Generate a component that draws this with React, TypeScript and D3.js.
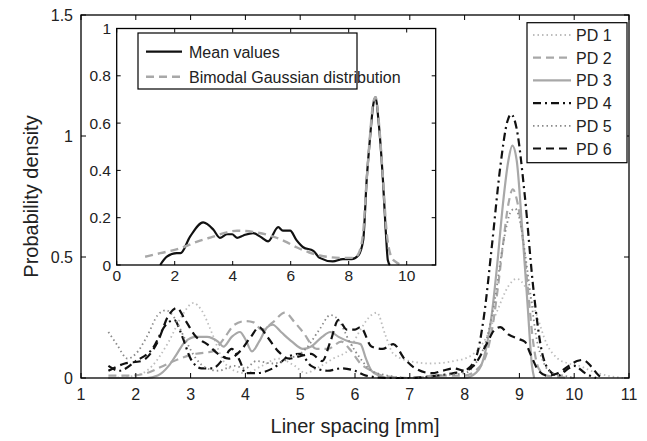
import React from 'react';
import * as d3 from 'd3';

// ---------- data ----------
const xTicksMain = [1, 2, 3, 4, 5, 6, 7, 8, 9, 10, 11];
const yTicksMain = [0, 0.5, 1, 1.5];
const yTickLabelsMain = ['0', '0.5', '1', '1.5'];
const xTicksInset = [0, 2, 4, 6, 8, 10];
const yTicksInset = [0, 0.2, 0.4, 0.6, 0.8, 1];
const yTickLabelsInset = ['0', '0.2', '0.4', '0.6', '0.8', '1'];

const seriesNames = ['PD 1', 'PD 2', 'PD 3', 'PD 4', 'PD 5', 'PD 6'];
const insetNames = ['Mean values', 'Bimodal Gaussian distribution'];

const pd1: [number, number][] = [
  [1.5, 0.0], [2.0, 0.01], [2.3, 0.05], [2.6, 0.15], [2.85, 0.26], [3.05, 0.31], [3.2, 0.28],
  [3.4, 0.18], [3.6, 0.07], [3.8, 0.03], [4.0, 0.02], [4.3, 0.05], [4.6, 0.08], [4.9, 0.05],
  [5.1, 0.02], [5.3, 0.04], [5.6, 0.08], [5.9, 0.12], [6.1, 0.2], [6.3, 0.26], [6.4, 0.27],
  [6.55, 0.18], [6.7, 0.1], [7.0, 0.07], [7.4, 0.06], [7.8, 0.07], [8.1, 0.09], [8.4, 0.17],
  [8.6, 0.28], [8.8, 0.38], [8.95, 0.41], [9.1, 0.38], [9.3, 0.27], [9.5, 0.14], [9.7, 0.08],
  [9.9, 0.06], [10.1, 0.05], [10.3, 0.03], [10.6, 0.01], [10.9, 0.0],
];
const pd2: [number, number][] = [
  [1.5, 0.01], [1.9, 0.01], [2.2, 0.02], [2.5, 0.05], [2.8, 0.08], [3.1, 0.1], [3.4, 0.11],
  [3.6, 0.16], [3.8, 0.22], [4.0, 0.235], [4.15, 0.23], [4.3, 0.2], [4.5, 0.23], [4.72, 0.27],
  [4.9, 0.23], [5.05, 0.19], [5.3, 0.12], [5.5, 0.12], [5.75, 0.15], [5.9, 0.12], [6.1, 0.06],
  [6.3, 0.03], [6.5, 0.01], [7.0, 0.0], [7.5, 0.01], [8.0, 0.01], [8.2, 0.03], [8.4, 0.1],
  [8.5, 0.2], [8.6, 0.36], [8.7, 0.55], [8.8, 0.72], [8.88, 0.78], [8.95, 0.74], [9.05, 0.6],
  [9.15, 0.38], [9.25, 0.15], [9.35, 0.04], [9.5, 0.01], [10.0, 0.0],
];
const pd3: [number, number][] = [
  [1.5, 0.0], [2.2, 0.0], [2.4, 0.01], [2.6, 0.05], [2.75, 0.1], [2.9, 0.15], [3.1, 0.17],
  [3.3, 0.17], [3.5, 0.15], [3.6, 0.13], [3.75, 0.17], [3.9, 0.19], [4.0, 0.16], [4.12, 0.11],
  [4.25, 0.15], [4.4, 0.21], [4.5, 0.22], [4.65, 0.19], [4.85, 0.15], [5.05, 0.12], [5.2, 0.13],
  [5.4, 0.17], [5.55, 0.19], [5.7, 0.17], [5.9, 0.15], [6.1, 0.14], [6.2, 0.08], [6.3, 0.03],
  [6.45, 0.01], [6.6, 0.0], [7.5, 0.0], [8.0, 0.0], [8.2, 0.02], [8.3, 0.05], [8.4, 0.13],
  [8.5, 0.27], [8.6, 0.48], [8.7, 0.72], [8.8, 0.9], [8.87, 0.96], [8.95, 0.9], [9.05, 0.62],
  [9.15, 0.3], [9.23, 0.05], [9.27, 0.0],
];
const pd4: [number, number][] = [
  [1.5, 0.05], [1.7, 0.03], [2.0, 0.07], [2.3, 0.12], [2.55, 0.22], [2.7, 0.24], [2.85, 0.17],
  [3.0, 0.08], [3.2, 0.04], [3.4, 0.04], [3.6, 0.08], [3.75, 0.12], [3.9, 0.07], [4.0, 0.02],
  [4.2, 0.02], [4.5, 0.04], [4.8, 0.09], [5.0, 0.1], [5.2, 0.05], [5.5, 0.03], [5.75, 0.04],
  [6.0, 0.03], [6.2, 0.01], [6.6, 0.0], [7.0, 0.0], [7.5, 0.01], [7.8, 0.02], [8.0, 0.03],
  [8.2, 0.08], [8.35, 0.25], [8.5, 0.55], [8.65, 0.87], [8.78, 1.06], [8.85, 1.09], [8.95, 1.03],
  [9.1, 0.75], [9.25, 0.38], [9.4, 0.12], [9.55, 0.03], [9.7, 0.01], [9.9, 0.04], [10.0, 0.05],
  [10.2, 0.02], [10.4, 0.0],
];
const pd5: [number, number][] = [
  [1.5, 0.19], [1.65, 0.14], [1.85, 0.08], [2.0, 0.1], [2.2, 0.17], [2.4, 0.26], [2.55, 0.28],
  [2.7, 0.25], [2.9, 0.16], [3.1, 0.08], [3.3, 0.04], [3.5, 0.03], [3.8, 0.05], [4.0, 0.04],
  [4.2, 0.07], [4.5, 0.06], [4.8, 0.08], [5.1, 0.12], [5.35, 0.2], [5.55, 0.26], [5.7, 0.24],
  [5.9, 0.15], [6.1, 0.08], [6.3, 0.03], [6.6, 0.01], [7.0, 0.0], [7.5, 0.01], [8.0, 0.02],
  [8.2, 0.06], [8.4, 0.16], [8.55, 0.32], [8.7, 0.55], [8.85, 0.69], [8.92, 0.7], [9.0, 0.66],
  [9.1, 0.52], [9.2, 0.35], [9.3, 0.18], [9.45, 0.06], [9.6, 0.02], [9.8, 0.01], [10.0, 0.0],
];
const pd6: [number, number][] = [
  [1.5, 0.03], [1.8, 0.06], [2.1, 0.07], [2.4, 0.15], [2.6, 0.26], [2.75, 0.29], [2.9, 0.24],
  [3.1, 0.17], [3.3, 0.14], [3.5, 0.1], [3.7, 0.08], [3.9, 0.11], [4.1, 0.17], [4.25, 0.21],
  [4.4, 0.17], [4.6, 0.11], [4.8, 0.08], [5.0, 0.09], [5.2, 0.1], [5.4, 0.07], [5.55, 0.15],
  [5.7, 0.24], [5.85, 0.2], [6.0, 0.2], [6.1, 0.21], [6.3, 0.13], [6.5, 0.12], [6.7, 0.14],
  [6.9, 0.08], [7.1, 0.04], [7.4, 0.02], [7.6, 0.03], [7.8, 0.04], [8.0, 0.03], [8.2, 0.06],
  [8.4, 0.14], [8.55, 0.2], [8.65, 0.21], [8.8, 0.18], [9.0, 0.16], [9.1, 0.15], [9.2, 0.1],
  [9.35, 0.03], [9.5, 0.01], [9.7, 0.02], [9.9, 0.05], [10.05, 0.07], [10.16, 0.075],
  [10.3, 0.05], [10.45, 0.01], [10.55, 0.0],
];

const meanValues: [number, number][] = [
  [1.5, 0.0], [1.73, 0.035], [2.07, 0.05], [2.2, 0.05], [2.53, 0.12], [2.98, 0.18], [3.33, 0.15],
  [3.56, 0.115], [3.8, 0.13], [3.98, 0.13], [4.15, 0.115], [4.37, 0.125], [4.7, 0.135],
  [4.95, 0.12], [5.22, 0.1], [5.57, 0.16], [5.73, 0.145], [5.98, 0.145], [6.2, 0.105],
  [6.43, 0.075], [6.78, 0.06], [7.0, 0.03], [7.45, 0.015], [7.8, 0.025], [8.1, 0.025],
  [8.33, 0.04], [8.5, 0.105], [8.62, 0.36], [8.73, 0.53], [8.85, 0.68], [8.93, 0.71],
  [9.02, 0.62], [9.18, 0.36], [9.28, 0.14], [9.35, 0.02], [9.42, 0.0],
];
const gaussianFit: [number, number][] = [
  [0.98, 0.035], [1.5, 0.05], [2.18, 0.07], [2.8, 0.1], [3.33, 0.12], [3.8, 0.138], [4.15, 0.145],
  [4.7, 0.14], [5.4, 0.12], [5.8, 0.1], [6.2, 0.075], [6.6, 0.055], [7.0, 0.04], [7.8, 0.03],
  [8.2, 0.03], [8.38, 0.06], [8.5, 0.14], [8.62, 0.36], [8.73, 0.54], [8.85, 0.69], [8.93, 0.71],
  [9.02, 0.63], [9.18, 0.37], [9.3, 0.15], [9.45, 0.04], [9.6, 0.015], [9.87, 0.0],
];

const mainSeries = [pd1, pd2, pd3, pd4, pd5, pd6];
const insetSeries = [meanValues, gaussianFit];

// ---------- styles ----------
const mainStyles = [
  { color: '#bdbdbd', dash: '1.5,3', width: 1.8 },
  { color: '#a8a8a8', dash: '8,5', width: 2.2 },
  { color: '#a8a8a8', dash: null, width: 2.2 },
  { color: '#111', dash: '8,4,2,4', width: 2.2 },
  { color: '#8a8a8a', dash: '1.5,3', width: 1.8 },
  { color: '#111', dash: '8,5', width: 2.2 },
];
const insetStyles = [
  { color: '#111', dash: null, width: 2.2 },
  { color: '#a8a8a8', dash: '8,5', width: 2.4 },
];

const FONT = '"Liberation Sans", Arial, Helvetica, sans-serif';

export default function App() {
  const W = 647;
  const H = 441;
  const m = { left: 81, right: 629, top: 15, bottom: 378 };
  const ins = { left: 116.7, right: 435.7, top: 28.5, bottom: 265 };

  const x = d3.scaleLinear().domain([1, 11]).range([m.left, m.right]);
  const y = d3.scaleLinear().domain([0, 1.5]).range([m.bottom, m.top]);
  const xi = d3.scaleLinear().domain([0, 11]).range([ins.left, ins.right]);
  const yi = d3.scaleLinear().domain([0, 1]).range([ins.bottom, ins.top]);

  const lineMain = d3
    .line<[number, number]>()
    .x((d) => x(d[0]))
    .y((d) => y(d[1]))
    .curve(d3.curveMonotoneX);
  const lineInset = d3
    .line<[number, number]>()
    .x((d) => xi(d[0]))
    .y((d) => yi(d[1]))
    .curve(d3.curveMonotoneX);

  const tk = 5;
  const tki = 4;

  const legX = 527;
  const legY = 22.7;
  const legW = 100;
  const legH = 140;
  const legRow0 = 35;
  const legStep = 22.7;

  const ilegX = 138;
  const ilegY = 33;
  const ilegW = 219;
  const ilegH = 56;

  return (
    <svg
      width={W}
      height={H}
      style={{ position: 'absolute', left: 0, top: 0, background: '#fff' }}
      fontFamily={FONT}
    >
      <rect x={0} y={0} width={W} height={H} fill="#fff" />
      {/* main curves */}
      {mainSeries.map((s, i) => (
        <path
          key={i}
          d={lineMain(s) || ''}
          fill="none"
          stroke={mainStyles[i].color}
          strokeWidth={mainStyles[i].width}
          strokeDasharray={mainStyles[i].dash || undefined}
          strokeLinecap="butt"
        />
      ))}
      {/* main axes box */}
      <rect
        x={m.left}
        y={m.top}
        width={m.right - m.left}
        height={m.bottom - m.top}
        fill="none"
        stroke="#000"
        strokeWidth={1.3}
      />
      {xTicksMain.map((t) => (
        <g key={'xt' + t}>
          <line x1={x(t)} x2={x(t)} y1={m.bottom} y2={m.bottom - tk} stroke="#000" strokeWidth={1} />
          <line x1={x(t)} x2={x(t)} y1={m.top} y2={m.top + tk} stroke="#000" strokeWidth={1} />
          <text x={x(t)} y={400} fontSize={16} textAnchor="middle" fill="#222">
            {t}
          </text>
        </g>
      ))}
      {yTicksMain.map((t, i) => (
        <g key={'yt' + t}>
          <line x1={m.left} x2={m.left + tk} y1={y(t)} y2={y(t)} stroke="#000" strokeWidth={1} />
          <line x1={m.right} x2={m.right - tk} y1={y(t)} y2={y(t)} stroke="#000" strokeWidth={1} />
          <text x={73} y={y(t) + 6} fontSize={16} textAnchor="end" fill="#222">
            {yTickLabelsMain[i]}
          </text>
        </g>
      ))}
      <text x={(m.left + m.right) / 2} y={433} fontSize={20} textAnchor="middle" fill="#222">
        Liner spacing [mm]
      </text>
      <text
        transform={`translate(38,${(m.top + m.bottom) / 2}) rotate(-90)`}
        fontSize={20}
        textAnchor="middle"
        fill="#222"
      >
        Probability density
      </text>

      {/* main legend */}
      <rect x={legX} y={legY} width={legW} height={legH} fill="#fff" stroke="#000" strokeWidth={1.2} />
      {seriesNames.map((n, i) => {
        const cy = legRow0 + i * legStep;
        const st = mainStyles[i];
        return (
          <g key={n}>
            <line
              x1={533}
              x2={571}
              y1={cy}
              y2={cy}
              stroke={st.color}
              strokeWidth={st.width}
              strokeDasharray={st.dash || undefined}
            />
            <text x={576} y={cy + 6} fontSize={16} fill="#222">
              {n}
            </text>
          </g>
        );
      })}

      {/* inset */}
      <rect
        x={ins.left}
        y={ins.top}
        width={ins.right - ins.left}
        height={ins.bottom - ins.top}
        fill="#fff"
        stroke="none"
      />
      {insetSeries.map((s, i) => (
        <path
          key={'is' + i}
          d={lineInset(s) || ''}
          fill="none"
          stroke={insetStyles[i].color}
          strokeWidth={insetStyles[i].width}
          strokeDasharray={insetStyles[i].dash || undefined}
        />
      ))}
      <rect
        x={ins.left}
        y={ins.top}
        width={ins.right - ins.left}
        height={ins.bottom - ins.top}
        fill="none"
        stroke="#000"
        strokeWidth={1.3}
      />
      {xTicksInset.map((t) => (
        <g key={'ixt' + t}>
          <line x1={xi(t)} x2={xi(t)} y1={ins.bottom} y2={ins.bottom - tki} stroke="#000" strokeWidth={1} />
          <line x1={xi(t)} x2={xi(t)} y1={ins.top} y2={ins.top + tki} stroke="#000" strokeWidth={1} />
          <text x={xi(t)} y={281} fontSize={15.5} textAnchor="middle" fill="#222">
            {t}
          </text>
        </g>
      ))}
      {yTicksInset.map((t, i) => (
        <g key={'iyt' + t}>
          <line x1={ins.left} x2={ins.left + tki} y1={yi(t)} y2={yi(t)} stroke="#000" strokeWidth={1} />
          <line x1={ins.right} x2={ins.right - tki} y1={yi(t)} y2={yi(t)} stroke="#000" strokeWidth={1} />
          <text x={111} y={yi(t) + 5.5} fontSize={15.5} textAnchor="end" fill="#222">
            {yTickLabelsInset[i]}
          </text>
        </g>
      ))}
      {/* inset legend */}
      <rect x={ilegX} y={ilegY} width={ilegW} height={ilegH} fill="#fff" stroke="#000" strokeWidth={1.2} />
      {insetNames.map((n, i) => {
        const cy = 51.7 + i * 25;
        const st = insetStyles[i];
        return (
          <g key={n}>
            <line
              x1={146}
              x2={182}
              y1={cy}
              y2={cy}
              stroke={st.color}
              strokeWidth={st.width}
              strokeDasharray={st.dash || undefined}
            />
            <text x={189} y={cy + 6} fontSize={16} fill="#222">
              {n}
            </text>
          </g>
        );
      })}
    </svg>
  );
}
